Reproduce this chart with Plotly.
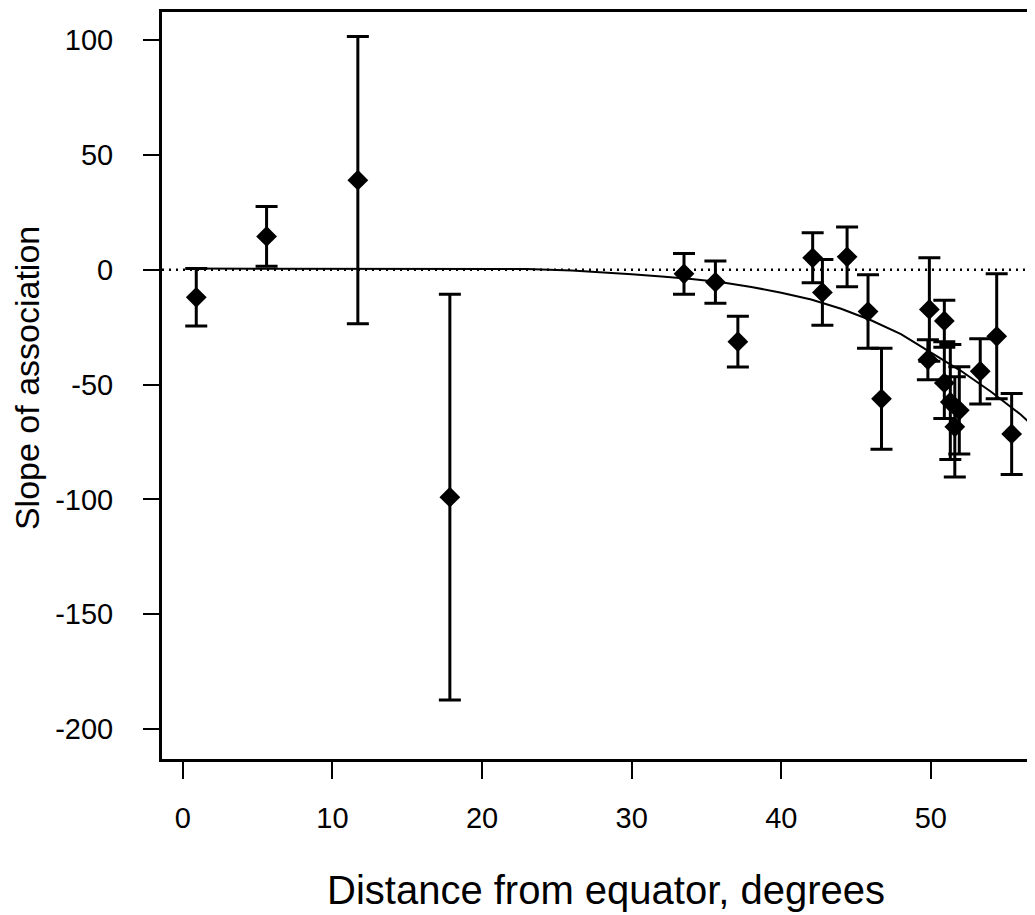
import plotly.graph_objects as go

# Data
lat = [0.9, 5.6, 11.7, 17.85, 33.5, 35.6, 37.1, 42.1, 42.75, 44.4, 45.8, 46.7,
       49.9, 49.8, 50.9, 50.9, 51.3, 51.9, 51.6, 53.3, 54.4, 55.4]
slope = [-12.0, 14.5, 39.0, -99.0, -1.8, -5.4, -31.3, 5.2, -9.9, 5.6, -18.2, -56.2,
         -17.3, -39.2, -22.3, -49.3, -57.6, -61.2, -68.4, -44.2, -29.0, -71.5]
ci = [12.5, 13.0, 62.5, 88.3, 8.9, 9.2, 11.0, 10.9, 14.3, 13.0, 16.0, 22.0,
      22.5, 8.7, 9.0, 15.5, 25.0, 19.0, 21.8, 14.2, 27.2, 17.6]

# Fitted curve
fit_x = [0.2, 5, 10, 15, 20, 23, 26, 28, 30, 32, 34, 36, 38, 40, 42, 44, 46, 48,
         50, 52, 54, 56, 57.5]
fit_y = [0.5, 0.5, 0.5, 0.5, 0.5, 0.3, -0.3, -1, -2, -3, -4, -5.5, -7.5, -10,
         -13, -17, -22, -28, -36, -44, -53, -63, -72]

x_ticks = [0, 10, 20, 30, 40, 50]
y_ticks = [100, 50, 0, -50, -100, -150, -200]
y_ticktext = ["100", "50", "0", "-50", "-100", "-150", "-200"]

FONT = "Liberation Sans, Arial, sans-serif"

fig = go.Figure()

fig.add_hline(y=0, line=dict(color="black", width=2.5, dash="2px,5px"))

fig.add_trace(go.Scatter(
    x=fit_x, y=fit_y, mode="lines",
    line=dict(color="black", width=2),
    showlegend=False, hoverinfo="skip"))

fig.add_trace(go.Scatter(
    x=lat, y=slope, mode="markers",
    marker=dict(symbol="diamond", size=16, color="black"),
    error_y=dict(type="data", array=ci, visible=True, color="black",
                 thickness=3, width=11),
    showlegend=False))

fig.update_layout(
    width=1027, height=907,
    margin=dict(l=154, r=0, t=4, b=156),
    plot_bgcolor="white", paper_bgcolor="white",
    font=dict(family=FONT, color="black"),
    xaxis=dict(range=[-1.39, 56.96], tickvals=x_ticks, ticks="outside",
               ticklen=17, tickwidth=2, tickcolor="black",
               showline=True, linecolor="black", linewidth=3, mirror=True,
               showgrid=False, zeroline=False,
               tickfont=dict(family=FONT, size=29, color="black"),
               ticklabelstandoff=14),
    yaxis=dict(range=[-213, 112.2], tickvals=y_ticks, ticktext=y_ticktext,
               ticks="outside", ticklen=16, tickwidth=2, tickcolor="black",
               showline=True, linecolor="black", linewidth=3, mirror=False,
               showgrid=False, zeroline=False,
               tickfont=dict(family=FONT, size=29, color="black"),
               ticklabelstandoff=24),
    annotations=[
        dict(text="Distance from equator, degrees", xref="paper", yref="paper",
             x=0.5086, y=-0.176, xanchor="center", yanchor="middle",
             showarrow=False, font=dict(family=FONT, size=40, color="black")),
        dict(text="Slope of association", xref="paper", yref="paper",
             x=-0.1546, y=0.51, xanchor="center", yanchor="middle",
             textangle=-90, showarrow=False,
             font=dict(family=FONT, size=34, color="black")),
    ],
)

fig.write_html("out.html")
